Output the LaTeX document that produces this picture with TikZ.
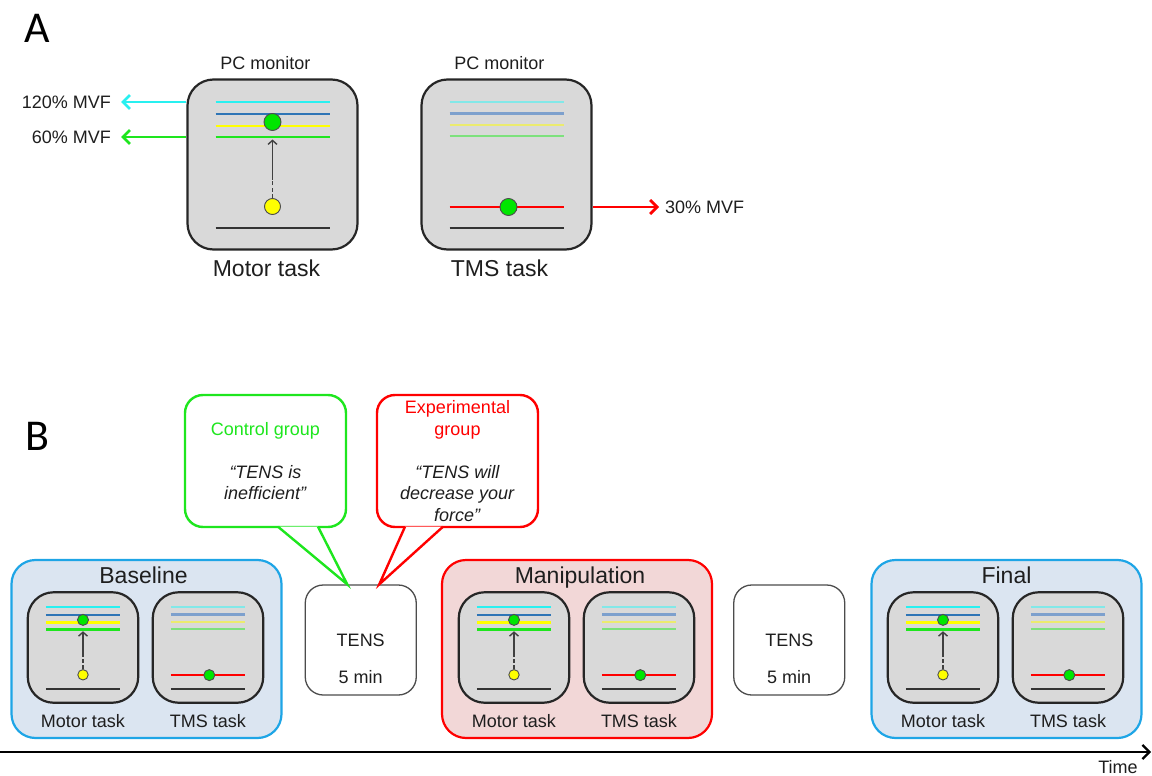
\documentclass[tikz,border=0pt]{standalone}
\usepackage{fontspec}
\setmainfont{Liberation Sans}
\newfontfamily\letterfont{Carlito}
\usetikzlibrary{positioning}
\usetikzlibrary{arrows.meta}
\usetikzlibrary{calc}
\usepackage{xcolor}
\definecolor{monfill}{RGB}{217,217,217}
\definecolor{lcyan}{RGB}{40,240,240}
\definecolor{lblue}{RGB}{46,117,182}
\definecolor{lyellow}{RGB}{255,255,0}
\definecolor{lgreen}{RGB}{30,230,30}
\definecolor{fcyan}{RGB}{130,232,232}
\definecolor{fblue}{RGB}{125,160,205}
\definecolor{fyellow}{RGB}{235,235,110}
\definecolor{fgreen}{RGB}{125,225,125}
\definecolor{lred}{RGB}{255,0,0}
\definecolor{dotgreen}{RGB}{0,230,0}
\definecolor{basefill}{RGB}{219,229,241}
\definecolor{basedraw}{RGB}{30,165,230}
\definecolor{manipfill}{RGB}{242,215,215}
\definecolor{txt}{RGB}{30,30,30}

\begin{document}
\begin{tikzpicture}[x=1pt, y=-1pt,
    font=\fontsize{18}{21.5}\selectfont, text=txt,
    screen/.style={draw=black!85, line width=2.2pt, fill=monfill, rounded corners=26pt, minimum width=170pt, minimum height=170pt},
    bar/.style={line width=2.3pt},
    ball/.style={circle, draw=black!70, line width=0.9pt, minimum size=17pt, inner sep=0pt},
    phase/.style={draw, line width=2.2pt, rounded corners=24pt, minimum width=270pt, minimum height=178pt},
    tens/.style={draw=black!70, line width=1.3pt, fill=white, rounded corners=18pt, minimum width=111pt, minimum height=110pt},
    bubble/.style={draw, fill=white, line width=2.4pt, rounded corners=18pt, minimum width=161pt, minimum height=132pt, align=center},
    big/.style={font=\fontsize{23}{27}\selectfont},
    letter/.style={font=\letterfont\fontsize{44}{44}\selectfont, text=black},
    mvf/.style={line width=2.8pt, -{Straight Barb[length=7pt,width=14pt]}},
    motor/.pic={
        \node[screen] (-box) {};
        \draw[bar, lcyan] (-57,-62.5) coordinate (-cy) -- (57,-62.5);
        \draw[bar, lblue] (-57,-50.5) -- (57,-50.5);
        \draw[bar, lyellow] (-57,-38.5) -- (57,-38.5);
        \draw[bar, lgreen] (-57,-27.5) coordinate (-gr) -- (57,-27.5);
        \draw[bar, black!80] (-57,63.5) -- (57,63.5);
        \node[ball, fill=dotgreen] (-gd) at (0,-42.5) {};
        \node[ball, fill=lyellow, minimum size=16pt] (-yd) at (0,42) {};
        \coordinate (-mid) at (0,14);
        \coordinate (-tip) at (0,-25);
        \draw[black!75, line width=1.4pt, dash pattern=on 4pt off 2.5pt] (-yd) -- (-mid);
        \draw[black!75, line width=1.4pt, -{Straight Barb[length=4pt,width=9pt]}] (-mid) -- (-tip);
    },
    tms/.pic={
        \node[screen] (-box) {};
        \draw[bar, fcyan] (-57,-62.5) -- (57,-62.5);
        \draw[bar, fblue] (-57,-51) -- (57,-51);
        \draw[bar, fyellow] (-57,-39.5) -- (57,-39.5);
        \draw[bar, fgreen] (-57,-28.5) -- (57,-28.5);
        \draw[bar, lred] (-57,42.5) coordinate (-rd) -- (57,42.5);
        \draw[bar, black!80] (-57,63.5) -- (57,63.5);
        \node[ball, fill=dotgreen] (-gd) at (2,42.5) {};
    }]
    \useasboundingbox (0,0) rectangle (1152,776);

    \node[letter] (la) at (37.5,28.5) {A};
    \pic (ma) at (272.5,164.5) {motor};
    \pic (ta) at (506.5,164.5) {tms};
    \node (pc1) at ([xshift=-7,yshift=15]ma-box.north) {PC monitor};
    \node (pc2) at ([xshift=-7,yshift=15]ta-box.north) {PC monitor};
    \node[big] (mlab) at ([xshift=-6,yshift=-18]ma-box.south) {Motor task};
    \node[big] (tlab) at ([xshift=-7,yshift=-18]ta-box.south) {TMS task};
    \node[anchor=east, inner xsep=10pt] (l120) at (121,102) {120\% MVF};
    \node[anchor=east, inner xsep=10pt] (l60) at (121,137) {60\% MVF};
    \node[anchor=west, inner xsep=6pt] (l30) at (659,207) {30\% MVF};
    \draw[mvf, lcyan] (ma-box.west |- ma-cy) -- (l120);
    \draw[mvf, lgreen] (ma-box.west |- ma-gr) -- (l60);
    \draw[mvf, lred] (ta-box.east |- ta-rd) -- (l30);

    \node[letter] (lb) at (37,436) {B};
    \node[phase, draw=basedraw, fill=basefill] (base) at (146.5,649) {};
    \node[big, anchor=base] (basett) at ([xshift=-3,yshift=-25]base.north) {Baseline};
    \pic[scale=0.65, transform shape] (bm) at ($(base)+(-63.5,-1.5)$) {motor};
    \pic[scale=0.65, transform shape] (bt) at ($(base)+(61.5,-1.5)$) {tms};
    \node (bml) at ([yshift=-18]bm-box.south) {Motor task};
    \node (btl) at ([yshift=-18]bt-box.south) {TMS task};

    \node[tens, right=22pt of base, yshift=9pt] (tens1) {};
    \node (tx1) at (tens1) {TENS};
    \node (mn1) at ([yshift=-37]tens1.center) {5 min};

    \node[phase, draw=lred, fill=manipfill, right=24pt of tens1, yshift=-9pt] (manip) {};
    \node[big, anchor=base] (maniptt) at ([xshift=3,yshift=-25]manip.north) {Manipulation};
    \pic[scale=0.65, transform shape] (pm) at ($(manip)+(-63,-1.5)$) {motor};
    \pic[scale=0.65, transform shape] (pt) at ($(manip)+(62,-1.5)$) {tms};
    \node (pml) at ([yshift=-18]pm-box.south) {Motor task};
    \node (ptl) at ([yshift=-18]pt-box.south) {TMS task};

    \node[tens, right=20pt of manip, yshift=9pt] (tens2) {};
    \node (tx2) at (tens2) {TENS};
    \node (mn2) at ([yshift=-37]tens2.center) {5 min};

    \node[phase, draw=basedraw, fill=basefill, right=25pt of tens2, yshift=-9pt] (final) {};
    \node[big, anchor=base] (finaltt) at ([yshift=-25]final.north) {Final};
    \pic[scale=0.65, transform shape] (fm) at ($(final)+(-63.5,-1.5)$) {motor};
    \pic[scale=0.65, transform shape] (ft) at ($(final)+(61.5,-1.5)$) {tms};
    \node (fml) at ([yshift=-18]fm-box.south) {Motor task};
    \node (ftl) at ([yshift=-18]ft-box.south) {TMS task};

    \node[bubble, draw=lgreen] (cg) at (265.5,461) {\textcolor{lgreen}{Control group}\\[21.5pt] \textit{“TENS is}\\ \textit{inefficient”}};
    \node[bubble, draw=lred] (eg) at (457.5,461) {\textcolor{lred}{Experimental}\\ \textcolor{lred}{group}\\[21.5pt] \textit{“TENS will}\\ \textit{decrease your}\\ \textit{force”}};
    \draw[lgreen, line width=2.4pt, fill=white] ([xshift=12.5,yshift=1.5]cg.south) -- ([xshift=-13.5]tens1.north) -- ([xshift=52.5,yshift=1.5]cg.south);
    \draw[lred, line width=2.4pt, fill=white] ([xshift=-52.5,yshift=1.5]eg.south) -- ([xshift=18.5]tens1.north) -- ([xshift=-14.5,yshift=1.5]eg.south);

    \coordinate (t0) at (0,752);
    \coordinate (t1) at (1151,752);
    \draw[line width=2.2pt, -{Straight Barb[length=7pt,width=14pt]}] (t0) -- (t1);
    \node (time) at (1118,767) {Time};
\end{tikzpicture}
\end{document}
